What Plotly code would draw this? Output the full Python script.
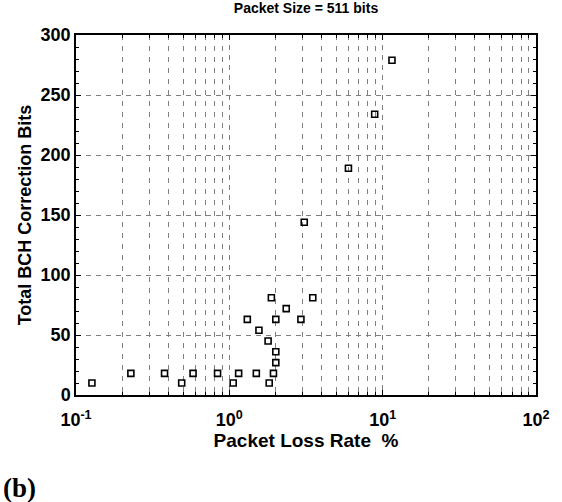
import plotly.graph_objects as go

# Data
loss_rate = [0.127, 0.228, 0.378, 0.489, 0.58, 0.838, 1.06, 1.15, 1.31, 1.50, 1.56,
             1.79, 1.88, 1.82, 1.94, 2.01, 2.01, 2.01, 2.35, 2.93, 3.08, 3.50,
             5.98, 8.87, 11.5]
bch_bits = [10, 18, 18, 10, 18, 18, 10, 18, 63, 18, 54,
            45, 81, 10, 18, 36, 27, 63, 72, 63, 144, 81,
            189, 234, 279]

x_tickvals = [0.1, 1, 10, 100]
x_ticktext = ["10<sup>-1</sup>", "10<sup>0</sup>", "10<sup>1</sup>", "10<sup>2</sup>"]
x_minorvals = [m * d for d in (0.1, 1, 10) for m in range(2, 10)]
y_tickvals = [0, 50, 100, 150, 200, 250, 300]

FONT = "Liberation Sans, Arial"

fig = go.Figure()
fig.add_trace(go.Scatter(
    x=loss_rate, y=bch_bits, mode="markers",
    marker=dict(symbol="square-open", size=6, color="black", line=dict(width=1.6)),
    showlegend=False,
))

grid_col = "#7f7f7f"
fig.update_layout(
    width=562, height=502,
    margin=dict(l=76, r=19, t=35, b=107),
    paper_bgcolor="white", plot_bgcolor="white",
    font=dict(family=FONT, color="black"),
    title=dict(text="Packet Size = 511 bits", x=0.5, xanchor="center",
               xref="paper", y=1, yref="container", yanchor="top", pad=dict(t=3),
               font=dict(size=14, weight="bold", family=FONT)),
    xaxis=dict(
        type="log", range=[-1, 2],
        tickvals=x_tickvals, ticktext=x_ticktext,
        ticks="inside", ticklen=5, tickcolor="black", tickwidth=1,
        tickfont=dict(size=18, family=FONT, weight="bold"),
        ticklabeloverflow="allow", ticklabelstandoff=8,
        showline=True, linecolor="black", linewidth=1.5, mirror="ticks",
        showgrid=True, gridcolor=grid_col, gridwidth=1, griddash="5px,5px",
        zeroline=False,
        minor=dict(tickvals=x_minorvals, ticks="inside", ticklen=3, tickcolor="black",
                   showgrid=True, gridcolor=grid_col, gridwidth=1, griddash="5px,6px"),
        title=dict(text="Packet Loss Rate\u00a0 %", font=dict(size=19, weight="bold", family=FONT),
                   standoff=3),
    ),
    yaxis=dict(
        range=[0, 300], tickvals=y_tickvals,
        ticks="inside", ticklen=5, tickcolor="black", tickwidth=1,
        tickfont=dict(size=18, family=FONT, weight="bold"),
        showline=True, linecolor="black", linewidth=1.5, mirror="ticks",
        showgrid=True, gridcolor=grid_col, gridwidth=1, griddash="5px,5px",
        zeroline=False,
        minor=dict(dtick=10, ticks="inside", ticklen=3, tickcolor="black", showgrid=False),
        title=dict(text="Total BCH Correction Bits", font=dict(size=18, weight="bold", family=FONT),
                   standoff=4),
    ),
)

fig.add_annotation(text="<b>(b)</b>", xref="paper", yref="paper",
                   x=-76/467, y=-(488-395)/360, xanchor="left", yanchor="middle",
                   showarrow=False,
                   font=dict(family="Liberation Serif, Times New Roman", size=27, color="black"))

fig.write_html("out.html", config={"displayModeBar": False},
               post_script="document.body.style.margin='0';")
